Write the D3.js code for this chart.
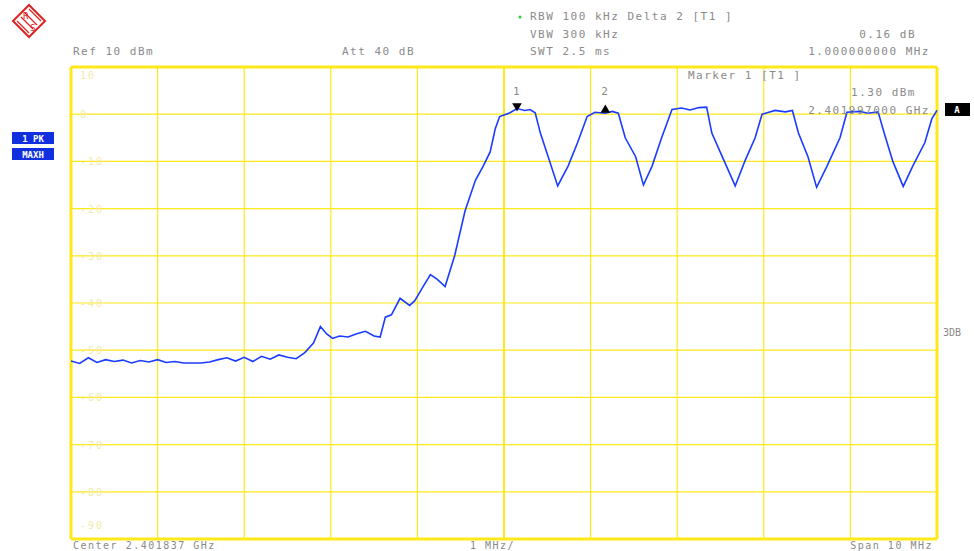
<!DOCTYPE html>
<html><head><meta charset="utf-8">
<script src="https://cdn.jsdelivr.net/npm/d3@7"></script>
<style>body{margin:0;background:#fff}text{font-family:"DejaVu Sans Mono",monospace}</style>
</head><body>
<svg id="c" width="974" height="551"></svg>
<script>
// trace: frequency offset from center (MHz) and level (dBm)
var freqs = [-5.0,-4.9,-4.8,-4.7,-4.6,-4.5,-4.4,-4.3,-4.2,-4.1,-4.0,-3.9,-3.8,-3.7,-3.6,-3.5,-3.4,-3.3,-3.2,-3.1,-3.0,-2.9,-2.8,-2.7,-2.6,-2.5,-2.4,
  -2.3,-2.2,-2.12,-2.05,-1.98,-1.9,-1.8,-1.7,-1.6,-1.5,-1.43,-1.37,-1.3,-1.2,-1.09,-1.03,-0.95,-0.85,-0.77,-0.68,-0.57,-0.45,-0.33,-0.24,-0.16,-0.1,-0.05,
  0.07,0.15,0.24,0.3,0.36,0.42,0.51,0.62,0.74,0.85,0.96,1.05,1.17,1.25,1.32,1.4,1.52,1.61,1.71,1.82,1.94,2.05,2.15,2.25,2.34,2.4,2.52,2.67,2.78,2.9,2.98,
  3.13,3.25,3.33,3.4,3.51,3.61,3.73,3.88,3.96,4.11,4.2,4.32,4.39,4.49,4.61,4.72,4.86,4.94,5.0];
var levels = [-52.3,-52.8,-51.6,-52.6,-52.0,-52.4,-52.1,-52.7,-52.2,-52.5,-52.0,-52.6,-52.4,-52.7,-52.7,-52.7,-52.5,-52.0,-51.6,-52.3,-51.5,-52.4,-51.3,-51.9,-51.0,-51.5,-51.8,
  -50.5,-48.5,-45.0,-46.5,-47.5,-47.0,-47.2,-46.5,-46.0,-47.0,-47.2,-43.0,-42.5,-39.0,-40.5,-39.5,-37.0,-34.0,-35.0,-36.5,-30.0,-20.5,-14.0,-11.0,-8.0,-3.0,-0.5,
  0.3,1.2,0.8,1.0,0.3,-4.0,-9.0,-15.2,-11.0,-6.0,-0.5,0.4,0.2,0.6,0.2,-5.0,-9.0,-15.0,-11.0,-5.0,1.0,1.3,0.9,1.4,1.5,-4.0,-9.0,-15.2,-10.0,-5.0,0.0,
  0.8,0.5,0.8,-4.0,-9.0,-15.5,-11.0,-5.0,0.4,0.6,0.2,0.5,-4.0,-10.0,-15.3,-11.0,-6.0,-1.0,0.8];
var yTicks = [10,0,-10,-20,-30,-40,-50,-60,-70,-80,-90];
var xTicks = [-5,-4,-3,-2,-1,0,1,2,3,4,5];
var headerLines = [
  {x:530,y:20,t:"RBW 100 kHz   Delta 2 [T1 ]"},
  {x:530,y:38,t:"VBW 300 kHz"},{x:916,y:38,t:"0.16 dB",a:"end"},
  {x:73,y:55,t:"Ref  10 dBm"},{x:342,y:55,t:"Att  40 dB"},{x:530,y:55,t:"SWT 2.5 ms"},{x:930,y:55,t:"1.000000000 MHz",a:"end"},
  {x:688,y:79,t:"Marker 1 [T1 ]"},{x:916,y:96,t:"1.30 dBm",a:"end"},{x:930,y:114,t:"2.401997000 GHz",a:"end"}
];
var footerLines = [
  {x:73,t:"Center 2.401837 GHz"},{x:470,t:"1 MHz/"},{x:933,t:"Span 10 MHz",a:"end"}
];

var svg = d3.select("#c");
var x = d3.scaleLinear().domain([-5,5]).range([71,937]);
var y = d3.scaleLinear().domain([10,-90]).range([67,539]);
var yel = "#ffe81a";

svg.selectAll(".vg").data(xTicks).enter().append("line")
  .attr("x1",d=>x(d)).attr("x2",d=>x(d)).attr("y1",67).attr("y2",539)
  .attr("stroke",yel).attr("stroke-width",d=>(d==-5||d==5)?3:(d==0?2:1.2));
svg.selectAll(".hg").data(yTicks).enter().append("line")
  .attr("x1",71).attr("x2",937).attr("y1",d=>y(d)).attr("y2",d=>y(d))
  .attr("stroke",yel).attr("stroke-width",d=>(d==10||d==-90)?3:1.2);
svg.selectAll(".yl").data(yTicks).enter().append("text")
  .attr("x",80).attr("y",(d,i)=>i==0?y(d)+12:(i==10?y(d)-10:y(d)+4)).attr("font-size",10)
  .attr("fill","#f3e9a8").attr("letter-spacing",2)
  .text(d=>d==0?"0":(d<0?"-"+(-d):d));

svg.append("path").datum(d3.zip(freqs,levels))
  .attr("d",d3.line().x(d=>x(d[0])).y(d=>y(d[1])))
  .attr("fill","none").attr("stroke","#1a3cff").attr("stroke-width",1.6);

// markers
svg.append("text").attr("x",x(0.15)-4).attr("y",95).attr("font-size",11).attr("fill","#888").text("1");
svg.append("path").attr("d",d3.symbol(d3.symbolTriangle,40)()).attr("fill","#000")
  .attr("transform","translate("+x(0.15)+",106) rotate(180)");
svg.append("text").attr("x",x(1.17)-4).attr("y",95).attr("font-size",11).attr("fill","#888").text("2");
svg.append("path").attr("d",d3.symbol(d3.symbolTriangle,40)()).attr("fill","#000")
  .attr("transform","translate("+x(1.17)+",110)");

svg.selectAll(".hd").data(headerLines).enter().append("text")
  .attr("x",d=>d.x).attr("y",d=>d.y).attr("text-anchor",d=>d.a||"start")
  .attr("font-size",11).attr("letter-spacing",1.5).attr("fill","#8a8a8a").text(d=>d.t);
svg.selectAll(".ft").data(footerLines).enter().append("text")
  .attr("x",d=>d.x).attr("y",549).attr("text-anchor",d=>d.a||"start")
  .attr("font-size",10).attr("letter-spacing",1.5).attr("fill","#8a8a8a").text(d=>d.t);
svg.append("circle").attr("cx",520).attr("cy",17).attr("r",1.5).attr("fill","#3c3");

// side labels
[["1 PK",132],["MAXH",148]].forEach(function(b){
  svg.append("rect").attr("x",12).attr("y",b[1]).attr("width",42).attr("height",12).attr("fill","#1030e0");
  svg.append("text").attr("x",33).attr("y",b[1]+9.5).attr("text-anchor","middle").attr("font-size",9).attr("font-weight","bold").attr("fill","#fff").text(b[0]);
});
svg.append("rect").attr("x",945).attr("y",103).attr("width",25).attr("height",13).attr("fill","#000");
svg.append("text").attr("x",957).attr("y",113).attr("text-anchor","middle").attr("font-size",9).attr("font-weight","bold").attr("fill","#fff").text("A");
svg.append("text").attr("x",943).attr("y",336).attr("font-size",10).attr("fill","#888").text("3DB");

// logo
var lg = svg.append("g").attr("transform","translate(29,21)");
lg.append("path").attr("d","M0,-16L16,0L0,16L-16,0Z").attr("fill","none").attr("stroke","#d22").attr("stroke-width",2);
lg.selectAll("line").data([-6,-2,2,6]).enter().append("line")
  .attr("x1",d=>d-6).attr("y1",d=>-d-6).attr("x2",d=>d+6).attr("y2",d=>-d+6).attr("stroke","#d22").attr("stroke-width",1.2);
lg.append("text").attr("x",-6).attr("y",-2).attr("font-size",9).attr("fill","#d22").text("R");
lg.append("text").attr("x",1).attr("y",10).attr("font-size",9).attr("fill","#d22").text("S");
</script>
</body></html>
